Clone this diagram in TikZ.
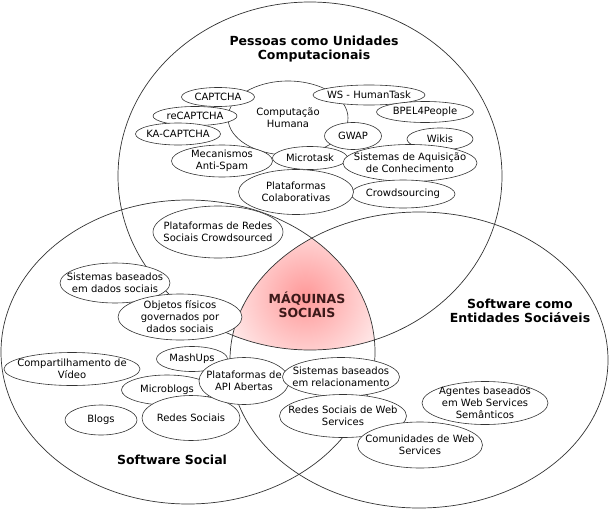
\documentclass[tikz,border=0pt]{standalone}
\usepackage{fontspec}
\setmainfont{DejaVu Sans}
\usetikzlibrary{shapes.geometric}
\definecolor{maroondark}{RGB}{60,25,25}

\begin{document}
\begin{tikzpicture}[
    x=1pt, y=-1pt,
    region/.style={draw=black!80, ellipse, inner sep=0pt, line width=0.7pt},
    bubble/.style={draw=black!80, fill=white, ellipse, inner sep=0pt, line width=0.6pt},
    title/.style={align=center, inner sep=0pt, font=\fontsize{12.5}{14}\selectfont\bfseries},
    every label/.style={align=center, inner sep=0pt, font=\fontsize{10}{12}\selectfont}
  ]
    \useasboundingbox (0,0) rectangle (612,511);

    % shaded intersection of the three regions
    \begin{scope}
      \clip (310,176) ellipse [x radius=192pt, y radius=174pt];
      \clip (188,352) ellipse [x radius=187pt, y radius=152pt];
      \clip (419,360) ellipse [x radius=189pt, y radius=148pt];
      \shade[inner color=red!40, outer color=white] (305,296) circle [radius=105pt];
    \end{scope}

    \node[region, minimum width=384pt, minimum height=348pt] (pessoas) at (310,176) {};
    \node[region, minimum width=374pt, minimum height=304pt] (softsocial) at (188,352) {};
    \node[region, minimum width=378pt, minimum height=296pt] (entidades) at (419,360) {};

    % pessoas como unidades computacionais
    \node[bubble, minimum width=120pt, minimum height=74pt, label={center:Computação\\Humana}] (humana) at (288,118) {};
    \node[bubble, minimum width=73pt, minimum height=19pt, label=center:CAPTCHA] (captcha) at (218,97) {};
    \node[bubble, minimum width=84pt, minimum height=19pt, label=center:reCAPTCHA] (recaptcha) at (195,116) {};
    \node[bubble, minimum width=85pt, minimum height=22pt, label=center:KA-CAPTCHA] (kacaptcha) at (178,134) {};
    \node[bubble, minimum width=112pt, minimum height=20pt, label=center:WS - HumanTask] (wshuman) at (369,95) {};
    \node[bubble, minimum width=97pt, minimum height=21pt, label=center:BPEL4People] (bpel) at (425,112) {};
    \node[bubble, minimum width=57pt, minimum height=27pt, label=center:GWAP] (gwap) at (353,136) {};
    \node[bubble, minimum width=66pt, minimum height=22pt, label=center:Wikis] (wikis) at (440,139) {};
    \node[bubble, minimum width=101pt, minimum height=32pt, label={center:Mecanismos\\Anti-Spam}] (antispam) at (222,161) {};
    \node[bubble, minimum width=75pt, minimum height=23pt, label=center:Microtask] (microtask) at (310,158) {};
    \node[bubble, minimum width=134pt, minimum height=37pt, label={center:Sistemas de Aquisição\\de Conhecimento}] (aquisicao) at (410,163) {};
    \node[bubble, minimum width=104pt, minimum height=28pt, label=center:Crowdsourcing] (crowdsourcing) at (403,194) {};
    \node[bubble, minimum width=115pt, minimum height=45pt, label={center:Plataformas\\Colaborativas}] (colaborativas) at (296,192) {};
    \node[bubble, minimum width=130pt, minimum height=52pt, label={center:Plataformas de Redes\\Sociais Crowdsourced}] (crowdredes) at (218,232) {};

    % software social
    \node[bubble, minimum width=110pt, minimum height=40pt, label={center:Sistemas baseados\\em dados sociais}] (dadossociais) at (115,283) {};
    \node[bubble, minimum width=124pt, minimum height=46pt, label={center:Objetos físicos\\governados por\\dados sociais}] (objetos) at (180,317) {};
    \node[bubble, minimum width=136pt, minimum height=33pt, label={center:Compartilhamento de\\Vídeo}] (video) at (72,369) {};
    \node[bubble, minimum width=71pt, minimum height=25pt, label=center:MashUps] (mashups) at (192,359) {};
    \node[bubble, minimum width=91pt, minimum height=30pt, label=center:Microblogs] (microblogs) at (167,390) {};
    \node[bubble, minimum width=98pt, minimum height=45pt, label=center:Redes Sociais] (redessociais) at (191,418) {};
    \node[bubble, minimum width=72pt, minimum height=30pt, label=center:Blogs] (blogs) at (101,420) {};
    \node[bubble, minimum width=90pt, minimum height=47pt, label={center:Plataformas de\\API Abertas}] (apiabertas) at (244,381) {};

    % software como entidades sociaveis
    \node[bubble, minimum width=117pt, minimum height=39pt, label={center:Sistemas baseados\\em relacionamento}] (relacionamento) at (341,377) {};
    \node[bubble, minimum width=127pt, minimum height=43pt, label={center:Redes Sociais de Web\\Services}] (redesweb) at (343,416) {};
    \node[bubble, minimum width=126pt, minimum height=43pt, label={center:Agentes baseados\\em Web Services\\Semânticos}] (agentes) at (485,403) {};
    \node[bubble, minimum width=125pt, minimum height=46pt, label={center:Comunidades de Web\\Services}] (comunidades) at (420,445) {};

    \node[title] (pessoastitle) at (314,49) {Pessoas como Unidades\\Computacionais};
    \node[title] (entidadestitle) at (520,311) {Software como\\Entidades Sociáveis};
    \node[title] (softsocialtitle) at (172,460) {Software Social};
    \node[title, text=maroondark] (maquinas) at (307,305) {MÁQUINAS\\SOCIAIS};
  \end{tikzpicture}
\end{document}
